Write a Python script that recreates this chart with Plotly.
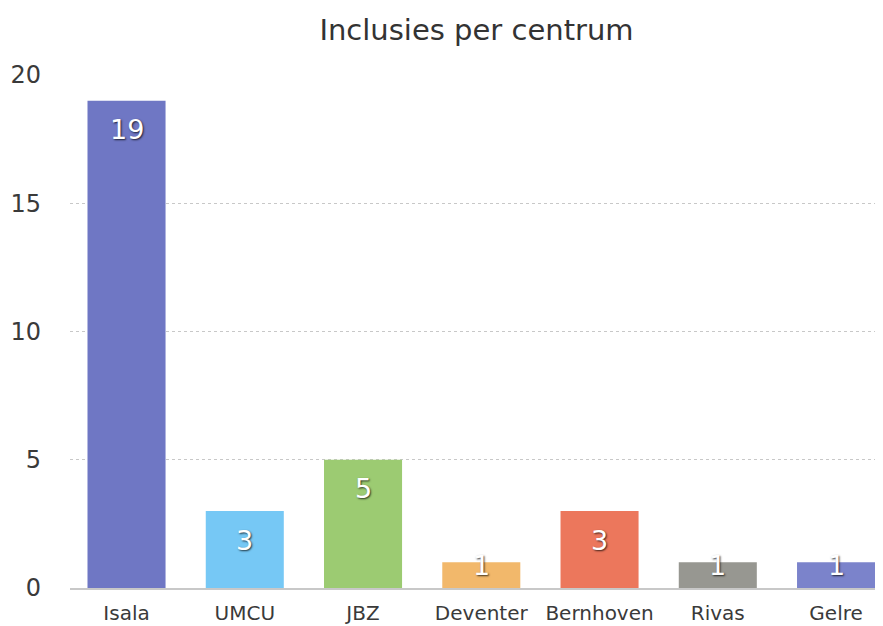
import plotly.graph_objects as go

centers = ["Isala", "UMCU", "JBZ", "Deventer", "Bernhoven", "Rivas", "Gelre"]
inclusies = [19, 3, 5, 1, 3, 1, 1]
colors = ["#6f77c4", "#76c8f5", "#9ccb72", "#f2b86b", "#ec775c", "#979791", "#7b83cb"]
y_ticks = [0, 5, 10, 15, 20]

FONT = "DejaVu Sans"
Y_MAX = 20
PLOT_H = 513  # plot area height in px

fig = go.Figure(go.Bar(
    x=centers,
    y=inclusies,
    marker=dict(color=colors, line=dict(width=0)),
    width=0.66,
    hoverinfo="x+y",
))

# value labels inside bars, near the top
for c, v in zip(centers, inclusies):
    bar_px = v / Y_MAX * PLOT_H
    shift = -29 if bar_px > 50 else -3
    fig.add_annotation(
        x=c, y=v, xref="x", yref="y", text=str(v), showarrow=False,
        yanchor="middle", yshift=shift,
        font=dict(family=FONT, size=27, color="white",
                  shadow="1px 1px 2px rgba(0,0,0,0.75)"),
    )

# page body has an 8px margin, so the figure is shifted by 8px
fig.update_layout(
    width=875, height=618,
    margin=dict(l=62, r=0, t=67, b=38),
    paper_bgcolor="white", plot_bgcolor="white",
    showlegend=False,
    title=dict(text="Inclusies per centrum", x=0.5, xref="paper", xanchor="center",
               y=0.965, yanchor="middle",
               font=dict(family=FONT, size=29, color="#333333")),
    font=dict(family=FONT, color="#444444"),
)

fig.update_xaxes(
    range=[-0.478, 6.397],
    showgrid=False,
    showline=True, linecolor="#c8c8c8", linewidth=1.5,
    ticks="", tickfont=dict(family=FONT, size=20, color="#3a3a3a"),
    ticklabelstandoff=6,
    automargin=False,
)
fig.update_yaxes(
    range=[0, Y_MAX],
    tickvals=y_ticks,
    showgrid=True, gridcolor="#c8c8c8", griddash="dot", gridwidth=1,
    zeroline=False, showline=False,
    ticks="", tickfont=dict(family=FONT, size=24, color="#3a3a3a"),
    ticklabelstandoff=28,
    automargin=False,
)

fig.write_html("out.html")
